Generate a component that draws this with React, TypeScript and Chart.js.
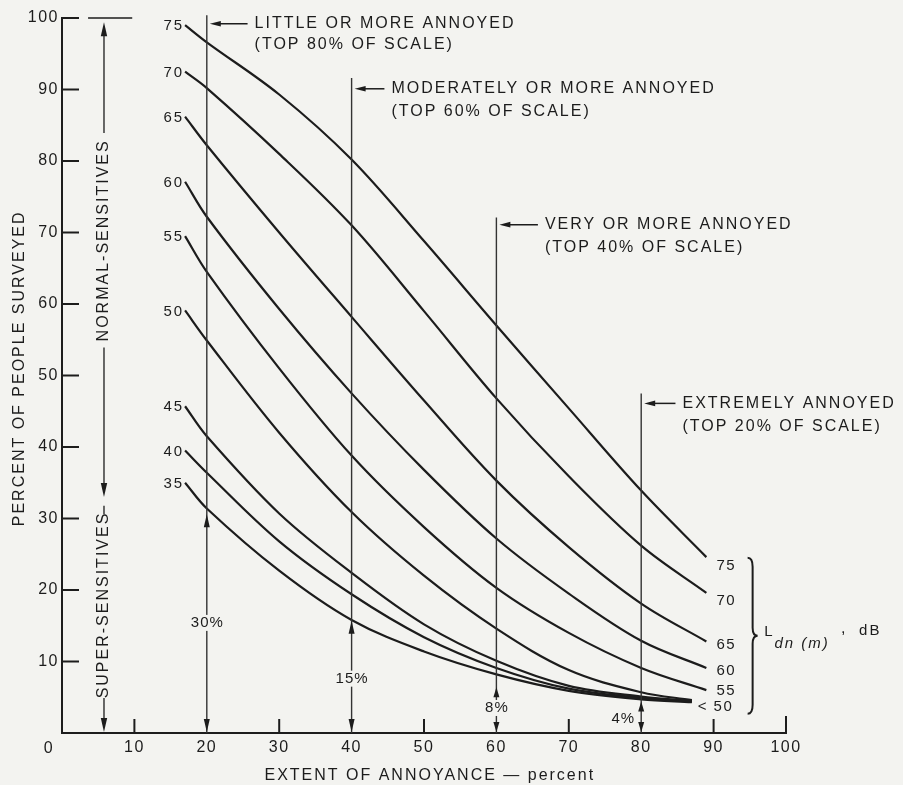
import React, { useEffect, useRef } from 'react';
import { Chart, registerables } from 'chart.js';

Chart.register(...registerables);

// ---------------- data ----------------
const annoyanceX = [17, 20, 30, 40, 50, 60, 70, 80, 89];
const annoyanceXLow = [17, 20, 30, 40, 50, 60, 70, 80, 87];

const ldn75 = [99.0, 96.6, 89.3, 80.2, 68.8, 57.0, 45.4, 33.9, 24.6];
const ldn70 = [92.5, 90.2, 81.0, 71.0, 59.0, 46.8, 35.9, 26.2, 19.6];
const ldn65 = [86.2, 82.2, 70.0, 58.2, 46.5, 35.3, 26.0, 18.1, 12.8];
const ldn60 = [77.1, 72.2, 59.3, 47.5, 36.8, 27.2, 19.5, 12.9, 9.1];
const ldn55 = [69.5, 64.5, 51.0, 38.8, 28.8, 20.3, 14.0, 9.1, 6.0];
const ldn50 = [59.1, 54.9, 42.0, 30.9, 22.0, 14.6, 8.8, 5.7, 4.6];
const ldn45 = [45.7, 41.5, 30.7, 22.4, 15.2, 10.1, 6.6, 5.1, 4.5];
const ldn40 = [39.5, 36.4, 26.8, 19.4, 13.4, 9.1, 6.2, 4.9, 4.4];
const ldn35 = [35.0, 31.4, 22.7, 15.8, 11.4, 8.2, 5.9, 4.7, 4.3];

const curveLabels = ['75', '70', '65', '60', '55', '50', '45', '40', '35'];
const endLabels = ['75', '70', '65', '60', '55', '< 50'];

const levelX = [20, 40, 60, 80];
const levelTop = [100.4, 91.6, 72.1, 47.5];
const levelTitles = ['LITTLE OR MORE ANNOYED', 'MODERATELY OR MORE ANNOYED', 'VERY OR MORE ANNOYED', 'EXTREMELY ANNOYED'];
const levelScales = ['(TOP 80% OF SCALE)', '(TOP 60% OF SCALE)', '(TOP 40% OF SCALE)', '(TOP 20% OF SCALE)'];
const surveyShare = ['30%', '15%', '8%', '4%'];
const surveyShareY = [30.6, 15.7, 6.4, 4.4];

const xTickMarks = [10, 30, 50, 70, 90, 100];
const yTickMarks = [10, 20, 30, 40, 50, 60, 70, 80, 90, 100];

// ---------------- layout / style (not data) ----------------
const FONT = '"Liberation Sans", Arial, Helvetica, sans-serif';
const INK = '#1c1c1c';
const BG = '#f3f3f0';
const SPACE = 2.0;
const TXT = 16;

const LAYOUT = {
  levelTextX: [26.6, 45.5, 66.7, 85.7],
  levelTextY1: [99.2, 90.1, 71.1, 46.1],
  levelTextY2: [96.3, 86.9, 67.9, 42.8],
  shareLabelY: [15.4, 7.6, 3.5, 2.0],
  endLabelX: [90.4, 90.4, 90.4, 90.4, 90.4, 87.8],
  endLabelY: [23.4, 18.5, 12.3, 8.7, 5.9, 3.6],
  sensX: 5.8,
};

type Opts = { align?: CanvasTextAlign; italic?: boolean; spacing?: number; rotate?: boolean; baseline?: CanvasTextBaseline };

function drawText(ctx: CanvasRenderingContext2D, s: string, x: number, y: number, size: number, opts: Opts = {}) {
  ctx.save();
  ctx.font = `${opts.italic ? 'italic ' : ''}${size}px ${FONT}`;
  (ctx as any).letterSpacing = `${opts.spacing ?? SPACE}px`;
  ctx.fillStyle = INK;
  ctx.textBaseline = opts.baseline ?? 'middle';
  ctx.textAlign = opts.align ?? 'left';
  if (opts.rotate) {
    ctx.translate(x, y);
    ctx.rotate(-Math.PI / 2);
    ctx.fillText(s, 0, 0);
  } else {
    ctx.fillText(s, x, y);
  }
  ctx.restore();
}

function seg(ctx: CanvasRenderingContext2D, x1: number, y1: number, x2: number, y2: number) {
  ctx.beginPath();
  ctx.moveTo(x1, y1);
  ctx.lineTo(x2, y2);
  ctx.stroke();
}

function head(ctx: CanvasRenderingContext2D, x: number, y: number, dir: string, len = 11, half = 3.2) {
  ctx.beginPath();
  ctx.moveTo(x, y);
  if (dir === 'up') { ctx.lineTo(x - half, y + len); ctx.lineTo(x + half, y + len); }
  else if (dir === 'down') { ctx.lineTo(x - half, y - len); ctx.lineTo(x + half, y - len); }
  else { ctx.lineTo(x + len, y - half); ctx.lineTo(x + len, y + half); }
  ctx.closePath();
  ctx.fill();
}

const curveSeries = [
  { label: curveLabels[0], xs: annoyanceX, ys: ldn75 },
  { label: curveLabels[1], xs: annoyanceX, ys: ldn70 },
  { label: curveLabels[2], xs: annoyanceX, ys: ldn65 },
  { label: curveLabels[3], xs: annoyanceX, ys: ldn60 },
  { label: curveLabels[4], xs: annoyanceX, ys: ldn55 },
  { label: curveLabels[5], xs: annoyanceXLow, ys: ldn50 },
  { label: curveLabels[6], xs: annoyanceXLow, ys: ldn45 },
  { label: curveLabels[7], xs: annoyanceXLow, ys: ldn40 },
  { label: curveLabels[8], xs: annoyanceXLow, ys: ldn35 },
];

const annotate = {
  id: 'annotate',
  beforeDraw(chart: any) {
    const { ctx, width, height } = chart;
    ctx.save();
    ctx.fillStyle = BG;
    ctx.fillRect(0, 0, width, height);
    ctx.restore();
    ctx.letterSpacing = '1.5px';
  },
  afterDraw(chart: any) {
    const ctx: CanvasRenderingContext2D = chart.ctx;
    const xs = chart.scales.x, ys = chart.scales.y;
    const X = (v: number) => xs.getPixelForValue(v);
    const Y = (v: number) => ys.getPixelForValue(v);
    ctx.save();
    ctx.strokeStyle = INK;
    ctx.fillStyle = INK;
    ctx.lineCap = 'butt';

    // tick marks (inward)
    ctx.lineWidth = 2;
    yTickMarks.forEach((v) => seg(ctx, X(0), Y(v), X(0) + 17, Y(v)));
    xTickMarks.forEach((v) => seg(ctx, X(v), Y(0), X(v), Y(0) - (v === 100 ? 17 : 14)));

    // origin label
    drawText(ctx, '0', X(-1.9), Y(-2.2), 16, { align: 'center', spacing: 0 });

    // axis titles
    drawText(ctx, 'EXTENT OF ANNOYANCE \u2014 percent', X(50.8), Y(-6.0), TXT, { align: 'center' });
    drawText(ctx, 'PERCENT OF PEOPLE SURVEYED', X(-5.9), Y(51), TXT, { align: 'center', rotate: true });

    // sensitives annotation
    const sx = X(LAYOUT.sensX);
    ctx.lineWidth = 1.6;
    seg(ctx, X(3.6), Y(100), X(9.7), Y(100));
    ctx.lineWidth = 1.3;
    seg(ctx, sx, Y(83.9), sx, Y(99.4) + 8);
    head(ctx, sx, Y(99.4), 'up', 14, 3.2);
    drawText(ctx, 'NORMAL-SENSITIVES', sx, Y(68.9), TXT, { align: 'center', rotate: true });
    seg(ctx, sx, Y(53.9), sx, Y(33) - 8);
    head(ctx, sx, Y(33), 'down', 14, 3.2);
    seg(ctx, sx, Y(31.8), sx, Y(30.6));
    drawText(ctx, 'SUPER-SENSITIVES', sx, Y(17.9), TXT, { align: 'center', rotate: true });
    seg(ctx, sx, Y(4.9), sx, Y(0) - 8);
    head(ctx, sx, Y(0) - 1, 'down', 14, 3.2);

    // level annotations
    levelX.forEach((lv, i) => {
      const lx = X(lv);
      const ay = Y(LAYOUT.levelTextY1[i]);
      const tx = X(LAYOUT.levelTextX[i]);
      ctx.lineWidth = 1.5;
      seg(ctx, lx + 8, ay, tx - 7, ay);
      head(ctx, lx + 3, ay, 'left', 11, 2.8);
      drawText(ctx, levelTitles[i], tx, ay, TXT);
      drawText(ctx, levelScales[i], tx, Y(LAYOUT.levelTextY2[i]), TXT);
    });

    // share arrows (dimension arrows from axis up to the lowest curve)
    levelX.forEach((lv, i) => {
      const lx = X(lv);
      ctx.lineWidth = 1.3;
      const small = i >= 2;
      const len = small ? 10 : 13;
      head(ctx, lx, Y(surveyShareY[i]), 'up', len, 3);
      head(ctx, lx, Y(0) - 1, 'down', len, 3);
      const ly = Y(LAYOUT.shareLabelY[i]);
      if (i < 3) {
        ctx.save();
        ctx.font = `15px ${FONT}`;
        (ctx as any).letterSpacing = '1px';
        const w = ctx.measureText(surveyShare[i]).width;
        ctx.fillStyle = BG;
        ctx.fillRect(lx - w / 2 - 2, ly - 8, w + 4, 16);
        ctx.restore();
        drawText(ctx, surveyShare[i], lx + 0.5, ly, 15, { align: 'center', spacing: 1 });
      } else {
        drawText(ctx, surveyShare[i], lx - 6, ly, 15, { align: 'right', spacing: 1 });
      }
    });

    // curve start labels
    curveSeries.forEach((c) => {
      const px = X(c.xs[0]);
      const py = Y(c.ys[0]);
      drawText(ctx, c.label, px - 1, py + 1, 15, { align: 'right', spacing: 2 });
    });

    // curve end labels
    endLabels.forEach((s, i) => {
      drawText(ctx, s, X(LAYOUT.endLabelX[i]), Y(LAYOUT.endLabelY[i]), 15, { spacing: 1.5 });
    });

    // brace
    const bx = X(94.7);
    const bTop = Y(24.5), bBot = Y(2.7), bMid = Y(13.6);
    ctx.lineWidth = 2;
    ctx.beginPath();
    ctx.moveTo(bx, bTop);
    ctx.quadraticCurveTo(bx + 5, bTop, bx + 5, bTop + 9);
    ctx.lineTo(bx + 5, bMid - 8);
    ctx.quadraticCurveTo(bx + 5, bMid, bx + 10, bMid);
    ctx.quadraticCurveTo(bx + 5, bMid, bx + 5, bMid + 8);
    ctx.lineTo(bx + 5, bBot - 9);
    ctx.quadraticCurveTo(bx + 5, bBot, bx, bBot);
    ctx.stroke();

    // L dn(m), dB
    drawText(ctx, 'L', X(97.0), Y(14.1), 15, { spacing: 0 });
    drawText(ctx, 'dn (m)', X(98.4), Y(12.5), 15, { italic: true, spacing: 2 });
    drawText(ctx, ',', X(107.6), Y(14.6), 16, { spacing: 0 });
    drawText(ctx, 'dB', X(110.1), Y(14.3), 15, { spacing: 2 });

    ctx.restore();
  },
};

export default function App() {
  const canvasRef = useRef<HTMLCanvasElement | null>(null);

  useEffect(() => {
    const canvas = canvasRef.current;
    if (!canvas) return;

    const curveDatasets = curveSeries.map((c) => ({
      label: c.label,
      data: c.xs.map((x, i) => ({ x, y: c.ys[i] })),
      showLine: true,
      borderColor: INK,
      backgroundColor: INK,
      borderWidth: 2.2,
      pointRadius: 0,
      tension: 0.35,
      clip: false as const,
    }));

    const levelDatasets = levelX.map((lv, i) => ({
      label: levelTitles[i],
      data: [{ x: lv, y: 0 }, { x: lv, y: levelTop[i] }],
      showLine: true,
      borderColor: '#333333',
      backgroundColor: '#333333',
      borderWidth: 1.4,
      pointRadius: 0,
      clip: false as const,
    }));

    const chart = new Chart(canvas, {
      type: 'scatter',
      data: { datasets: [...levelDatasets, ...curveDatasets] },
      options: {
        animation: false,
        responsive: false,
        layout: { padding: { left: 0, right: 117, top: 18, bottom: 0 } },
        plugins: { legend: { display: false }, tooltip: { enabled: false } },
        scales: {
          x: {
            type: 'linear',
            min: 0,
            max: 100,
            afterFit: (s: any) => { s.height = 52; },
            grid: { display: false, drawTicks: false },
            border: { display: true, color: INK, width: 2 },
            ticks: {
              stepSize: 10,
              autoSkip: false,
              maxRotation: 0,
              padding: 5,
              color: INK,
              font: { family: FONT, size: 16 },
              callback: (v: any) => (v === 0 ? '' : String(v)),
            },
          },
          y: {
            type: 'linear',
            min: 0,
            max: 100,
            afterFit: (s: any) => { s.width = 62; },
            grid: { display: false, drawTicks: false },
            border: { display: true, color: INK, width: 2 },
            ticks: {
              stepSize: 10,
              autoSkip: false,
              padding: 3,
              color: INK,
              font: { family: FONT, size: 16 },
              callback: (v: any) => (v === 0 ? '' : String(v)),
            },
          },
        },
      },
      plugins: [annotate],
    });

    return () => chart.destroy();
  }, []);

  return (
    <div style={{ position: 'fixed', left: 0, top: 0, width: 903, height: 785 }}>
      <canvas ref={canvasRef} width={903} height={785} style={{ display: 'block' }} />
    </div>
  );
}
